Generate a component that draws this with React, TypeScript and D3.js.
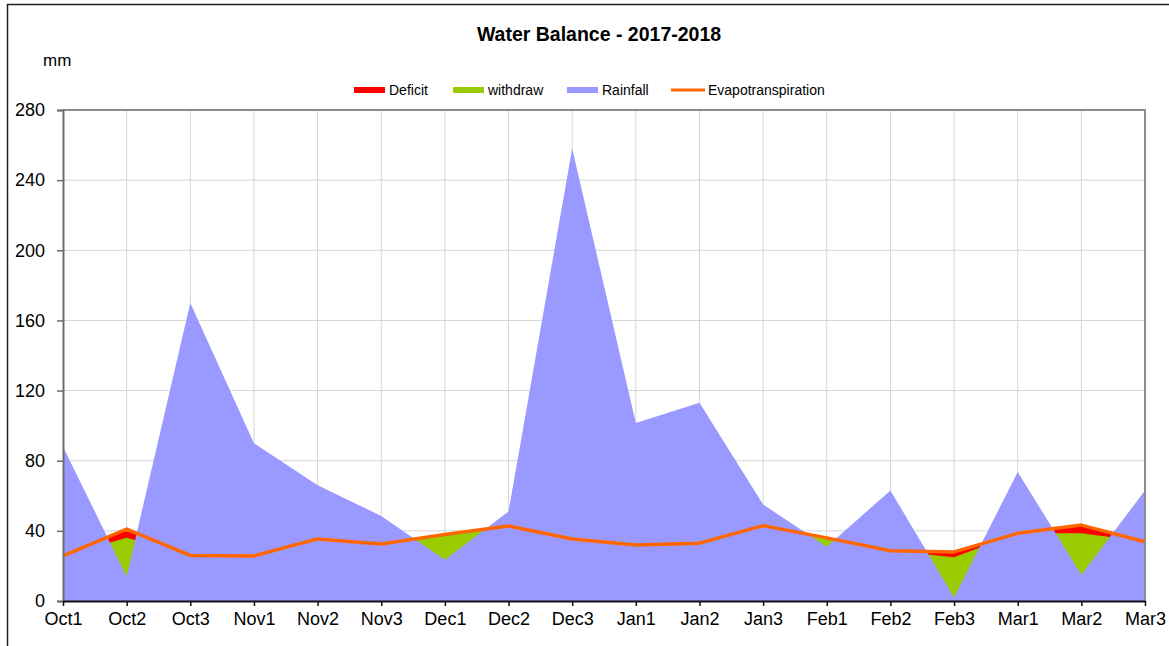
import React, { useEffect, useRef } from "react";
import * as d3 from "d3";

// decade labels along the x axis
const categories = [
    "Oct1", "Oct2", "Oct3", "Nov1", "Nov2", "Nov3", "Dec1", "Dec2", "Dec3",
    "Jan1", "Jan2", "Jan3", "Feb1", "Feb2", "Feb3", "Mar1", "Mar2", "Mar3",
];

// values in mm
const rainfall = [88, 14, 170, 90, 66, 48.5, 23.5, 51, 258, 101.5, 113, 55, 31, 63, 2, 73.5, 15, 63];
const evapotranspiration = [25.7, 41, 26, 25.7, 35.4, 32.5, 38, 42.8, 35.4, 32, 33, 43, 36, 28.7, 28, 38.6, 43.3, 33.8];
const deficit = [0, 5, 0, 0, 0, 0, 1, 0, 0, 0, 0, 0, 0, 0, 3, 0, 4.7, 0];

const yTicks = [0, 40, 80, 120, 160, 200, 240, 280];

const legendItems = [
    { label: "Deficit", color: "#FF0000", kind: "area" },
    { label: "withdraw", color: "#99CC00", kind: "area" },
    { label: "Rainfall", color: "#9999FF", kind: "area" },
    { label: "Evapotranspiration", color: "#FF6600", kind: "line" },
];

export default function App() {
    const svgRef = useRef(null);
    const width = 1169;
    const height = 646;
    const marginLeft = 63;
    const marginRight = 24;
    const marginTop = 110;
    const marginBottom = 45;

    useEffect(() => {
        const svg = d3.select(svgRef.current);
        svg.selectAll("*").remove();

        const font = "'Liberation Sans', Arial, sans-serif";

        const x = d3.scalePoint()
            .domain(categories)
            .range([marginLeft, width - marginRight]);

        const y = d3.scaleLinear()
            .domain([0, 280])
            .range([height - marginBottom, marginTop]);

        // outer chart frame (cut by the page edges)
        svg.append("path")
            .attr("d", `M7.5,${height} V4.5 H${width}`)
            .attr("fill", "none")
            .attr("stroke", "#222")
            .attr("stroke-width", 1.5);

        // gridlines
        svg.append("g")
            .selectAll("line")
            .data(yTicks.slice(1))
            .join("line")
            .attr("x1", marginLeft)
            .attr("x2", width - marginRight)
            .attr("y1", (d) => y(d))
            .attr("y2", (d) => y(d))
            .attr("stroke", "#d4d4d4")
            .attr("stroke-width", 1);

        svg.append("g")
            .selectAll("line")
            .data(categories.slice(1))
            .join("line")
            .attr("x1", (d) => x(d))
            .attr("x2", (d) => x(d))
            .attr("y1", y(0))
            .attr("y2", y(280))
            .attr("stroke", "#d4d4d4")
            .attr("stroke-width", 1);

        const rows = categories.map((c, i) => ({
            c,
            rain: rainfall[i],
            et: evapotranspiration[i],
            withdrawTop: evapotranspiration[i] - deficit[i],
        }));

        const area = (acc) => d3.area()
            .x((d) => x(d.c))
            .y0(y(0))
            .y1((d) => y(acc(d)));

        // deficit reaches up to ET, withdraw up to ET - deficit, rainfall drawn on top
        svg.append("path").datum(rows).attr("fill", "#FF0000").attr("d", area((d) => d.et));
        svg.append("path").datum(rows).attr("fill", "#99CC00").attr("d", area((d) => d.withdrawTop));
        svg.append("path").datum(rows).attr("fill", "#9999FF").attr("d", area((d) => d.rain));

        // evapotranspiration line
        svg.append("path")
            .datum(rows)
            .attr("fill", "none")
            .attr("stroke", "#FF6600")
            .attr("stroke-width", 3.5)
            .attr("stroke-linejoin", "round")
            .attr("d", d3.line().x((d) => x(d.c)).y((d) => y(d.et)));

        // plot frame top and right
        svg.append("path")
            .attr("d", `M${marginLeft},${y(280)} H${width - marginRight} V${y(0)}`)
            .attr("fill", "none")
            .attr("stroke", "#8c8c8c")
            .attr("stroke-width", 2);

        // y axis
        svg.append("g")
            .attr("transform", `translate(${marginLeft},0)`)
            .call(d3.axisLeft(y).tickValues(yTicks).tickSize(6).tickPadding(12))
            .call((g) => g.select(".domain").attr("stroke", "#6e6e6e").attr("stroke-width", 2))
            .call((g) => g.selectAll(".tick line").attr("stroke", "#6e6e6e").attr("stroke-width", 1.5))
            .call((g) => g.selectAll(".tick text")
                .attr("font-family", font)
                .attr("font-size", 18)
                .attr("fill", "#000"));

        // x axis
        svg.append("g")
            .attr("transform", `translate(0,${y(0)})`)
            .call(d3.axisBottom(x).tickSize(5).tickPadding(6).tickSizeOuter(0))
            .call((g) => g.select(".domain").attr("stroke", "#111").attr("stroke-width", 2))
            .call((g) => g.selectAll(".tick line").attr("stroke", "#111").attr("stroke-width", 1.5))
            .call((g) => g.selectAll(".tick text")
                .attr("font-family", font)
                .attr("font-size", 18)
                .attr("fill", "#000"));

        // title and unit
        svg.append("text")
            .attr("x", 599)
            .attr("y", 41)
            .attr("text-anchor", "middle")
            .attr("font-family", font)
            .attr("font-size", 19.5)
            .attr("font-weight", "bold")
            .text("Water Balance - 2017-2018");

        svg.append("text")
            .attr("x", 43)
            .attr("y", 66)
            .attr("font-family", font)
            .attr("font-size", 17)
            .text("mm");

        // legend
        const legendX = [354, 453, 567, 671];
        const legend = svg.append("g")
            .selectAll("g")
            .data(legendItems)
            .join("g")
            .attr("transform", (d, i) => `translate(${legendX[i]},90)`);

        legend.append("line")
            .attr("x1", 0)
            .attr("x2", (d) => (d.kind === "line" ? 34 : 31))
            .attr("stroke", (d) => d.color)
            .attr("stroke-width", (d) => (d.kind === "line" ? 3 : 6));

        legend.append("text")
            .attr("x", (d) => (d.kind === "line" ? 37 : 35))
            .attr("y", 5)
            .attr("font-family", font)
            .attr("font-size", 14)
            .attr("fill", "#000")
            .text((d) => d.label);
    }, []);

    return (
        <svg
            ref={svgRef}
            width={width}
            height={height}
            style={{ position: "absolute", left: 0, top: 0, background: "#fff" }}
        ></svg>
    );
}
